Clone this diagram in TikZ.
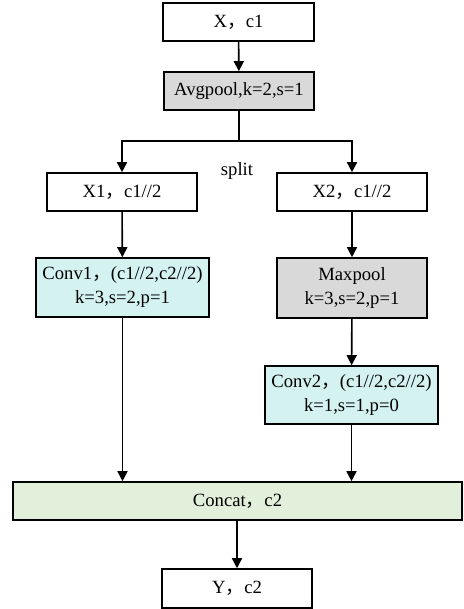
\documentclass[tikz,border=0pt]{standalone}
\usepackage{fontspec}
\setmainfont{Liberation Serif}
\newfontfamily\cjk{Noto Sans CJK SC}
\usetikzlibrary{arrows.meta}
\newcommand{\cc}{{\cjk ，}}
\definecolor{grayfill}{HTML}{D9D9D9}
\definecolor{cyanfill}{HTML}{D3F2F0}
\definecolor{greenfill}{HTML}{E2EFDA}
\begin{document}
\begin{tikzpicture}[x=0.75pt,y=-0.75pt,
  box/.style={draw=black,line width=1.2pt,inner sep=0pt,align=center,font=\fontsize{14}{18}\selectfont},
  arr/.style={line width=1.2pt,-{Triangle[width=7.5pt,length=7.5pt]}},
  ln/.style={line width=1.2pt}]
\useasboundingbox (0,0) rectangle (463,609);
\node[box,minimum width=113.25pt,minimum height=28.5pt] (xc1) at (238.5,22) {X\cc c1};
\node[box,fill=grayfill,minimum width=112.5pt,minimum height=28.5pt] (avg) at (239,91) {Avgpool,k=2,s=1};
\node[box,minimum width=112.5pt,minimum height=28.5pt] (x1) at (122,192) {X1\cc c1//2};
\node[box,minimum width=112.5pt,minimum height=28.5pt] (x2) at (352,192) {X2\cc c1//2};
\node[font=\fontsize{14}{17}\selectfont] (split) at (237,171) {split};
\node[box,fill=cyanfill,minimum width=129.75pt,minimum height=44.25pt] (conv1) at (122.5,287.5) {Conv1\cc (c1//2,c2//2)\\k=3,s=2,p=1};
\node[box,fill=grayfill,minimum width=112.5pt,minimum height=45pt] (maxp) at (352,288) {Maxpool\\k=3,s=2,p=1};
\node[box,fill=cyanfill,minimum width=129.75pt,minimum height=43.5pt] (conv2) at (351.5,395) {Conv2\cc (c1//2,c2//2)\\k=1,s=1,p=0};
\node[box,fill=greenfill,minimum width=336.75pt,minimum height=28.5pt] (concat) at (237.5,501) {Concat\cc c2};
\node[box,minimum width=112.5pt,minimum height=29.25pt] (y) at (237,588.5) {Y\cc c2};
\coordinate (sp) at (239,141);
\draw[arr] (xc1) -- (avg);
\draw[ln] (avg) -- (sp);
\draw[arr] (sp) -| (x1);
\draw[arr] (sp) -| (x2);
\draw[arr] (x1) -- (conv1);
\draw[arr] (x2) -- (maxp);
\draw[arr] (maxp) -- (conv2);
\draw[arr] (conv1.south) -- (conv1.south |- concat.north);
\draw[arr] (conv2.south) -- (conv2.south |- concat.north);
\draw[arr] (concat.south -| y.north) -- (y.north);
\end{tikzpicture}
\end{document}
